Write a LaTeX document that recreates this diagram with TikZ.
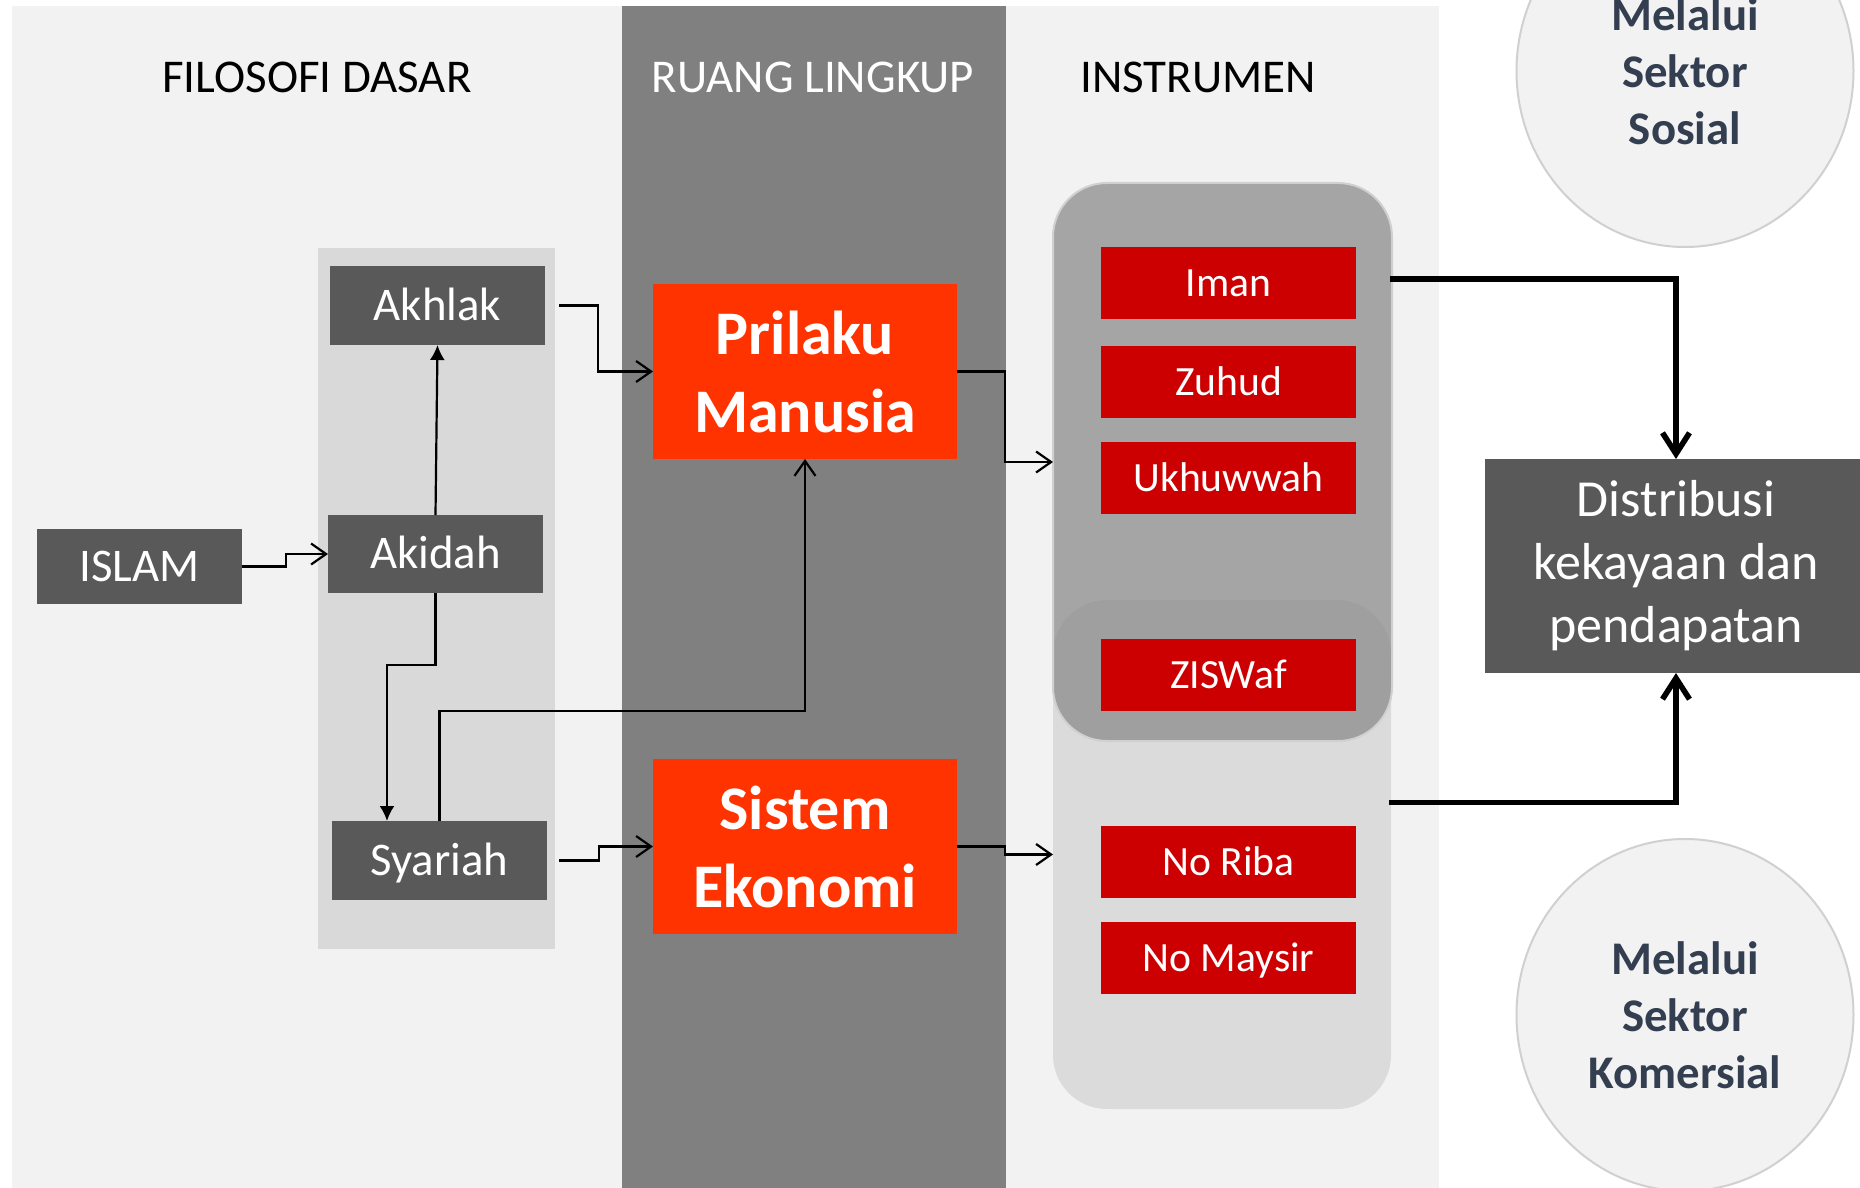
\documentclass[tikz,border=0pt]{standalone}
\usepackage{fontspec}
\setmainfont{Carlito}
\usetikzlibrary{arrows.meta,calc,shapes.geometric}
\definecolor{panelbg}{HTML}{F2F2F2}
\definecolor{darkpanel}{HTML}{808080}
\definecolor{colbg}{HTML}{D9D9D9}
\definecolor{boxgray}{HTML}{595959}
\definecolor{orangebox}{HTML}{FF3300}
\definecolor{redbox}{HTML}{CC0000}
\definecolor{grpfill}{RGB}{137,137,137}
\definecolor{lowfill}{HTML}{DCDBDC}
\definecolor{edgegray}{HTML}{D0D0D0}
\definecolor{circtext}{HTML}{333F50}
\begin{document}
\begin{tikzpicture}[x=0.5pt,y=-0.5pt,
  every node/.style={inner sep=0pt, outer sep=0pt},
  darkbox/.style={fill=boxgray, text=white, minimum width=107.5pt, minimum height=39.5pt,
    font=\fontsize{23.4pt}{28pt}\selectfont, text height=14.8pt, text depth=0pt},
  orangebox/.style={fill=orangebox, text=white, minimum width=152pt, minimum height=87.5pt,
    align=center, font=\bfseries\fontsize{31pt}{39pt}\selectfont},
  redlabel/.style={fill=redbox, text=white, minimum width=127.5pt, minimum height=36pt,
    font=\fontsize{20.8pt}{25pt}\selectfont, text height=13.2pt, text depth=0pt},
  header/.style={anchor=base, font=\fontsize{23.5pt}{28pt}\selectfont},
  sector/.style={ellipse, fill=panelbg, draw=edgegray, line width=1pt, minimum width=168.5pt,
    minimum height=176pt, align=center, text=circtext, font=\bfseries\fontsize{23.4pt}{28.5pt}\selectfont},
  thinarrow/.style={draw=black, line width=1.1pt, -{Straight Barb[length=7.5pt,width=10.5pt]}},
  fillarrow/.style={draw=black, line width=1.1pt, -{Latex[length=7.5pt,width=7.5pt]}},
  thickarrow/.style={draw=black, line width=2.8pt, -{Straight Barb[length=10.5pt,width=13.5pt]}}
]
\useasboundingbox (0,0) rectangle (1860,1188);
\clip (0,0) rectangle (1860,1188);

% panels
\fill[panelbg] (12,6) rectangle (623,1188);
\fill[darkpanel] (622,6) rectangle (1006,1188);
\fill[panelbg] (1006,6) rectangle (1439,1188);
\fill[colbg] (318,248) rectangle (555,949);

% headers
\node[header, text=black] (h1) at (317,93) {FILOSOFI DASAR};
\node[header, text=white] (h2) at (813,93) {RUANG LINGKUP};
\node[header, text=black] (h3) at (1198,93) {INSTRUMEN};

% left column boxes
\node[darkbox] (akhlak) at (437.5,305.5) {Akhlak};
\node[darkbox, minimum height=39pt] (akidah) at (435.5,554) {Akidah};
\node[darkbox, minimum width=102.5pt, minimum height=37.5pt] (islam) at (139.5,566.5) {ISLAM};
\node[darkbox] (syariah) at (439.5,860.5) {Syariah};

% scope boxes
\node[orangebox] (prilaku) at (805,371.5) {Prilaku\\Manusia};
\node[orangebox] (sistem) at (805,846.5) {Sistem\\Ekonomi};

% instrument groups
\node[fill=lowfill, rounded corners=27pt, minimum width=169pt, minimum height=254.5pt] (com) at (1222,854.5) {};
\node[fill=grpfill, fill opacity=0.727, draw=edgegray, line width=1pt, rounded corners=27pt,
  minimum width=169.5pt, minimum height=279pt] (soc) at (1222.5,462) {};

\node[redlabel] (iman) at (1228.5,283) {Iman};
\node[redlabel] (zuhud) at (1228.5,382) {Zuhud};
\node[redlabel] (ukhuwwah) at (1228.5,478) {Ukhuwwah};
\node[redlabel] (ziswaf) at (1228.5,675) {ZISWaf};
\node[redlabel] (noriba) at (1228.5,862) {No Riba};
\node[redlabel] (nomaysir) at (1228.5,958) {No Maysir};

% result
\node[fill=boxgray, text=white, minimum width=191pt, minimum height=107pt, align=center,
  font=\fontsize{26pt}{31.5pt}\selectfont] (dist) at (1676,566) {Distribusi\\kekayaan dan\\pendapatan};

% sectors
\node[sector] (sosial) at (1685,71) {Melalui\\Sektor\\Sosial};
\node[sector] (komersial) at (1685,1015) {Melalui\\Sektor\\Komersial};

% connectors
\draw[thinarrow] (islam.east) -- ++(44,0) |- (akidah.west);
\draw[fillarrow] (akidah.north) -- (akhlak.south);
\draw[thinarrow] ($(akhlak.east)+(14,0)$) -- ++(39,0) |- (prilaku.west);
\draw[fillarrow] (akidah.south) -- ++(0,72) -| ($(syariah.north)+(-52.5,0)$);
\draw[thinarrow] (syariah.north) -- ++(0,-110) -| (prilaku.south);
\draw[thinarrow] ($(syariah.east)+(12,0)$) -- ++(40,0) |- (sistem.west);
\draw[thinarrow] (prilaku.east) -- ++(48,0) |- (soc.west);
\draw[thinarrow] (sistem.east) -- ++(48,0) |- (com.west);
\draw[thickarrow] ($(soc.north east)+(-2,96)$) -| (dist.north);
\draw[thickarrow] ($(com.east)+(-2,-52)$) -| (dist.south);
\end{tikzpicture}
\end{document}
